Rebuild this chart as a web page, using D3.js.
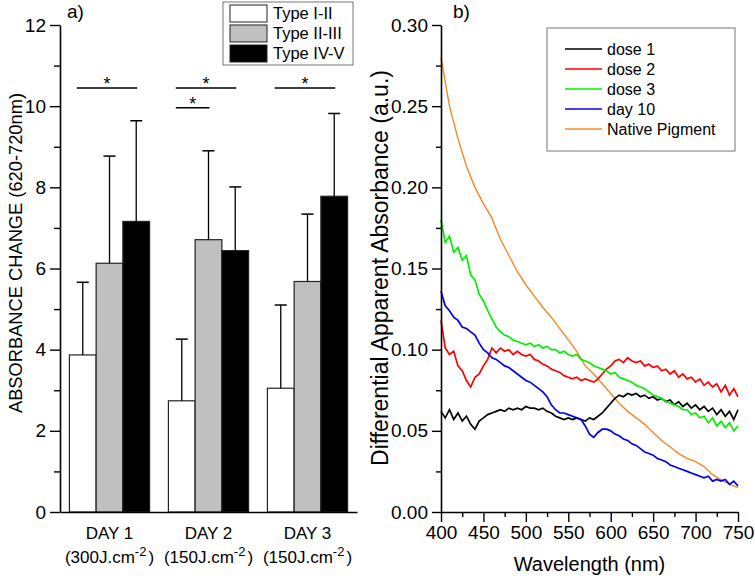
<!DOCTYPE html>
<html><head><meta charset="utf-8">
<script src="https://cdn.jsdelivr.net/npm/d3@7"></script>
<style>
html,body{margin:0;padding:0;background:#fff;}
svg{display:block;font-family:Arial,"Liberation Sans",sans-serif;}
</style></head>
<body><svg id="c" width="755" height="578"></svg>
<script>
// ---------- Panel a) data ----------
const days = ["DAY 1", "DAY 2", "DAY 3"];
const doses = ["(300J.cm", "(150J.cm", "(150J.cm"];
const types = ["Type I-II", "Type II-III", "Type IV-V"];
const typeColors = ["#ffffff", "#c0c0c0", "#000000"];
const meanI = [3.87, 2.74, 3.05];
const meanII = [6.13, 6.71, 5.68];
const meanIV = [7.16, 6.44, 7.78];
const sdI = [1.79, 1.52, 2.05];
const sdII = [2.64, 2.19, 1.66];
const sdIV = [2.48, 1.57, 2.04];
const yTicksA = [0, 2, 4, 6, 8, 10, 12];
const yMinorA = [1, 3, 5, 7, 9, 11];
// significance brackets: day, from type index, to type index, height
const sigDay = ["DAY 1", "DAY 2", "DAY 2", "DAY 3"];
const sigFrom = [0, 0, 0, 0];
const sigTo = [2, 2, 1, 2];
const sigY = [10.45, 10.45, 9.96, 10.45];

// ---------- Panel b) data ----------
const wavelengths = [400,405,410,415,420,425,430,435,440,445,450,455,460,465,470,475,480,485,490,495,500,505,510,515,520,525,530,535,540,545,550,555,560,565,570,575,580,585,590,595,600,605,610,615,620,625,630,635,640,645,650,655,660,665,670,675,680,685,690,695,700,705,710,715,720,725,730,735,740,745,750];
const dose1 = [0.062,0.058,0.063,0.057,0.061,0.056,0.059,0.054,0.051,0.056,0.058,0.060,0.061,0.062,0.063,0.062,0.064,0.063,0.064,0.063,0.065,0.064,0.064,0.063,0.064,0.062,0.061,0.059,0.058,0.057,0.058,0.057,0.058,0.057,0.056,0.058,0.057,0.059,0.061,0.064,0.067,0.070,0.072,0.071,0.073,0.072,0.073,0.071,0.072,0.070,0.071,0.069,0.070,0.068,0.069,0.066,0.068,0.065,0.067,0.064,0.066,0.063,0.065,0.062,0.064,0.060,0.063,0.059,0.062,0.057,0.063];
const dose2 = [0.118,0.101,0.097,0.099,0.090,0.087,0.081,0.077,0.083,0.085,0.090,0.094,0.101,0.098,0.101,0.099,0.100,0.097,0.099,0.097,0.096,0.097,0.094,0.093,0.091,0.090,0.088,0.087,0.086,0.084,0.083,0.082,0.083,0.081,0.082,0.081,0.080,0.082,0.085,0.088,0.090,0.093,0.094,0.092,0.095,0.093,0.092,0.093,0.090,0.091,0.089,0.090,0.087,0.088,0.085,0.087,0.083,0.085,0.082,0.083,0.080,0.082,0.078,0.080,0.077,0.079,0.074,0.078,0.072,0.076,0.071];
const dose3 = [0.180,0.166,0.170,0.160,0.163,0.155,0.158,0.146,0.143,0.134,0.130,0.124,0.119,0.114,0.111,0.109,0.108,0.106,0.105,0.104,0.103,0.104,0.102,0.103,0.101,0.102,0.100,0.100,0.098,0.099,0.097,0.096,0.097,0.094,0.093,0.092,0.090,0.089,0.088,0.087,0.085,0.086,0.083,0.082,0.081,0.080,0.078,0.077,0.076,0.074,0.072,0.071,0.070,0.068,0.067,0.066,0.065,0.063,0.063,0.060,0.061,0.058,0.059,0.055,0.058,0.053,0.056,0.052,0.055,0.050,0.053];
const day10 = [0.136,0.127,0.124,0.120,0.118,0.114,0.113,0.111,0.109,0.104,0.100,0.098,0.095,0.094,0.092,0.090,0.089,0.087,0.085,0.083,0.081,0.080,0.078,0.076,0.074,0.071,0.066,0.063,0.061,0.061,0.060,0.059,0.058,0.057,0.053,0.048,0.046,0.049,0.051,0.051,0.050,0.048,0.047,0.045,0.044,0.042,0.041,0.039,0.037,0.036,0.035,0.033,0.032,0.031,0.029,0.028,0.027,0.026,0.025,0.024,0.023,0.022,0.021,0.022,0.019,0.020,0.019,0.020,0.017,0.019,0.016];
const pigmentWl = [400,410,420,430,440,450,460,470,480,490,500,510,520,530,540,550,560,570,580,590,600,610,620,630,640,650,660,670,680,690,700,710,720,730,740,750];
const nativePigment = [0.280,0.250,0.230,0.213,0.200,0.190,0.181,0.168,0.158,0.148,0.140,0.133,0.126,0.120,0.113,0.106,0.099,0.090,0.085,0.079,0.073,0.067,0.062,0.058,0.054,0.049,0.044,0.040,0.036,0.033,0.031,0.028,0.023,0.020,0.017,0.015];
const seriesNames = ["dose 1", "dose 2", "dose 3", "day 10", "Native Pigment"];
const seriesColors = ["#000000", "#ff0000", "#00f000", "#0000f0", "#f28a24"];
const yTicksB = [0, 0.05, 0.10, 0.15, 0.20, 0.25, 0.30];
const yMinorB = [0.025, 0.075, 0.125, 0.175, 0.225, 0.275];
const xTicksB = [400, 450, 500, 550, 600, 650, 700, 750];
const xMinorB = [425, 475, 525, 575, 625, 675, 725];

const svg = d3.select("#c");
const axisW = 1.6;
const FONT = "Arial, 'Liberation Sans', sans-serif";

// ================= Panel a =================
const yA = d3.scaleLinear().domain([0, 12]).range([512, 25]);
const x0 = d3.scaleBand().domain(days).range([60, 357]).paddingInner(0.19).paddingOuter(0.095);
const x1 = d3.scaleBand().domain(types).range([0, x0.bandwidth()]);
const means = [meanI, meanII, meanIV];
const sds = [sdI, sdII, sdIV];

const gA = svg.append("g");
types.forEach((t, ti) => {
  days.forEach((d, di) => {
    const bx = x0(d) + x1(t);
    gA.append("rect")
      .attr("x", bx).attr("y", yA(means[ti][di]))
      .attr("width", x1.bandwidth()).attr("height", yA(0) - yA(means[ti][di]))
      .attr("fill", typeColors[ti]).attr("stroke", "#222").attr("stroke-width", 1.2);
    const cx = bx + x1.bandwidth() / 2;
    const top = yA(means[ti][di] + sds[ti][di]);
    gA.append("line").attr("x1", cx).attr("x2", cx)
      .attr("y1", yA(means[ti][di])).attr("y2", top)
      .attr("stroke", "#000").attr("stroke-width", 1.3);
    gA.append("line").attr("x1", cx - 6).attr("x2", cx + 6)
      .attr("y1", top).attr("y2", top)
      .attr("stroke", "#000").attr("stroke-width", 1.5);
  });
});
sigDay.forEach((d, i) => {
  const xa = x0(d) + x1(types[sigFrom[i]]) + x1.bandwidth() / 2 - 6;
  const xb = x0(d) + x1(types[sigTo[i]]) + x1.bandwidth() / 2 + 1;
  const yy = yA(sigY[i]);
  gA.append("line").attr("x1", xa).attr("x2", xb).attr("y1", yy).attr("y2", yy)
    .attr("stroke", "#000").attr("stroke-width", 1.5);
  gA.append("text").attr("x", (xa + xb) / 2).attr("y", yy + 2)
    .attr("text-anchor", "middle").attr("font-size", 18).text("*");
});
const yAxA = gA.append("g").attr("transform", "translate(60,0)")
  .call(d3.axisLeft(yA).tickValues(yTicksA).tickSize(10).tickSizeOuter(0).tickPadding(4).tickFormat(d3.format("d")));
gA.append("g").attr("transform", "translate(60,0)")
  .call(d3.axisLeft(yA).tickValues(yMinorA).tickSize(6).tickSizeOuter(0).tickFormat(""))
  .call(g => g.select(".domain").remove());
gA.append("g").attr("transform", "translate(0,512)")
  .call(d3.axisBottom(x0).tickSize(0).tickSizeOuter(0).tickFormat(""));
gA.selectAll(".domain").attr("stroke-width", axisW);
gA.selectAll(".tick line").attr("stroke-width", 1.4);
yAxA.selectAll("text").attr("font-size", 19).attr("font-family", FONT).attr("fill", "#000");
days.forEach((d, i) => {
  const cx = x0(d) + x0.bandwidth() / 2;
  gA.append("text").attr("x", cx).attr("y", 539).attr("text-anchor", "middle")
    .attr("font-size", 17).text(d);
  const t = gA.append("text").attr("x", cx).attr("y", 563).attr("text-anchor", "middle")
    .attr("font-size", 17);
  t.append("tspan").text(doses[i]);
  t.append("tspan").attr("font-size", 13).attr("dy", -7).text("-2");
  t.append("tspan").attr("dy", 7).attr("dx", 2).text(")");
});
gA.append("text").attr("transform", "translate(22,253) rotate(-90)")
  .attr("text-anchor", "middle").attr("font-size", 18.3).text("ABSORBANCE CHANGE (620-720nm)");
gA.append("text").attr("x", 67).attr("y", 18).attr("font-size", 19).text("a)");
const legA = gA.append("g");
legA.append("rect").attr("x", 223).attr("y", 2).attr("width", 130).attr("height", 63)
  .attr("fill", "#fff").attr("stroke", "#777").attr("stroke-width", 1);
types.forEach((t, i) => {
  const yy = 5 + i * 20;
  legA.append("rect").attr("x", 230).attr("y", yy).attr("width", 37).attr("height", 17)
    .attr("fill", typeColors[i]).attr("stroke", "#222").attr("stroke-width", 1);
  legA.append("text").attr("x", 273).attr("y", yy + 14).attr("font-size", 16.5).text(t);
});

// ================= Panel b =================
const xB = d3.scaleLinear().domain([400, 750]).range([441, 738]);
const yB = d3.scaleLinear().domain([0, 0.30]).range([512, 25]);
const gB = svg.append("g");
const line = d3.line().x(d => xB(d[0])).y(d => yB(d[1]));
const noisy = [dose1, dose2, dose3, day10];
const drawOrder = [4, 0, 1, 2, 3];
drawOrder.forEach(si => {
  let pts;
  if (si === 4) pts = pigmentWl.map((w, i) => [w, nativePigment[i]]);
  else pts = wavelengths.map((w, i) => [w, noisy[si][i]]);
  gB.append("path").attr("d", line(pts)).attr("fill", "none")
    .attr("stroke", seriesColors[si]).attr("stroke-width", si === 4 ? 1.4 : 1.7)
    .attr("stroke-linejoin", "miter");
});
const yAxB = gB.append("g").attr("transform", "translate(441,0)")
  .call(d3.axisLeft(yB).tickValues(yTicksB).tickSize(9).tickSizeOuter(0).tickPadding(4).tickFormat(d3.format(".2f")));
gB.append("g").attr("transform", "translate(441,0)")
  .call(d3.axisLeft(yB).tickValues(yMinorB).tickSize(5).tickSizeOuter(0).tickFormat(""))
  .call(g => g.select(".domain").remove());
gB.append("g").attr("transform", "translate(0,512)")
  .call(d3.axisBottom(xB).tickValues(xTicksB).tickSize(10).tickSizeOuter(0).tickPadding(4).tickFormat(d3.format("d")));
gB.append("g").attr("transform", "translate(0,512)")
  .call(d3.axisBottom(xB).tickValues(xMinorB).tickSize(5).tickSizeOuter(0).tickFormat(""))
  .call(g => g.select(".domain").remove());
gB.selectAll(".domain").attr("stroke-width", axisW);
gB.selectAll(".tick line").attr("stroke-width", 1.4);
gB.selectAll(".tick text").attr("font-size", 19).attr("font-family", FONT).attr("fill", "#000");
gB.append("text").attr("x", xB(575)).attr("y", 571).attr("text-anchor", "middle")
  .attr("font-size", 20).text("Wavelength (nm)");
gB.append("text").attr("transform", "translate(388,268) rotate(-90)")
  .attr("text-anchor", "middle").attr("font-size", 23).text("Differential Apparent Absorbance (a.u.)");
gB.append("text").attr("x", 453).attr("y", 18).attr("font-size", 19).text("b)");
const legB = gB.append("g");
legB.append("rect").attr("x", 547).attr("y", 28).attr("width", 188).attr("height", 123)
  .attr("fill", "#fff").attr("stroke", "#777").attr("stroke-width", 1);
seriesNames.forEach((n, i) => {
  const yy = 49 + i * 20;
  legB.append("line").attr("x1", 565).attr("x2", 602).attr("y1", yy).attr("y2", yy)
    .attr("stroke", seriesColors[i]).attr("stroke-width", 1.6);
  legB.append("text").attr("x", 607).attr("y", yy + 6).attr("font-size", 16).text(n);
});
</script></body></html>
